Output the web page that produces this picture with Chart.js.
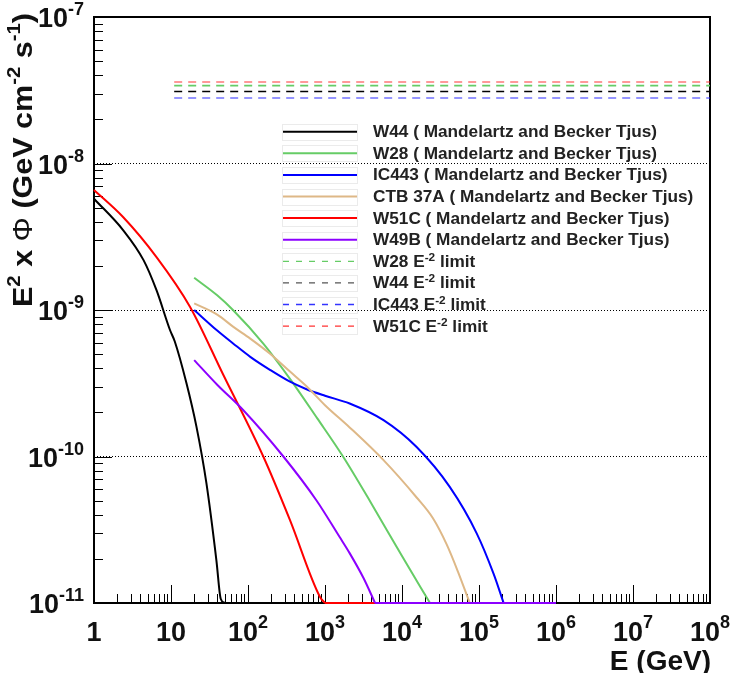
<!DOCTYPE html>
<html>
<head>
<meta charset="utf-8">
<script src="https://cdn.jsdelivr.net/npm/chart.js@4.4.1/dist/chart.umd.min.js"></script>
<style>
  html, body { margin: 0; padding: 0; background: #fff; }
  #wrap { width: 734px; height: 673px; }
</style>
</head>
<body>
<div id="wrap"><canvas id="sedChart" width="734" height="673"></canvas></div>
<script>
// ---- data (E in GeV, E^2 x Phi in GeV cm^-2 s^-1) ----
// last point of each curve = end of the 1e-11 floor
const w44Energy = [1, 2.4, 4.4, 6.5, 9.7, 11.2, 15.8, 21.4, 28.8, 38.9, 44.2, 50, 1e6];
const w44Flux = [5.75e-9, 3.5e-9, 2.19e-9, 1.36e-9, 7.3e-10, 6.1e-10, 3.2e-10, 1.6e-10, 6.6e-11, 1.95e-11, 1.07e-11, 1e-11, 1e-11];

const w28Energy = [20, 39.8, 63.8, 158, 351, 794, 1714, 3981, 1e4, 23100, 1e6];
const w28Flux = [1.66e-9, 1.26e-9, 1e-9, 5.9e-10, 3.39e-10, 1.82e-10, 1e-10, 4.8e-11, 2.09e-11, 1e-11, 1e-11];

const ic443Energy = [20, 39.8, 64.6, 107, 195, 351, 575, 1000, 2089, 5754, 15490, 41690, 93330, 154900, 208900, 1e6];
const ic443Flux = [1e-9, 7.24e-10, 5.89e-10, 4.79e-10, 3.89e-10, 3.24e-10, 2.88e-10, 2.6e-10, 2.3e-10, 1.77e-10, 1.16e-10, 6.2e-11, 2.99e-11, 1.58e-11, 1e-11, 1e-11];

const ctbEnergy = [20, 39.8, 64.6, 107, 195, 351, 575, 1000, 2089, 5754, 15490, 25120, 38020, 53700, 75860, 1e6];
const ctbFlux = [1.11e-9, 9.3e-10, 7.67e-10, 6.38e-10, 5.01e-10, 3.8e-10, 3.02e-10, 2.24e-10, 1.58e-10, 9.44e-11, 5.25e-11, 3.8e-11, 2.51e-11, 1.62e-11, 1e-11, 1e-11];

const w51cEnergy = [1, 2.4, 6.52, 17.7, 47.9, 158, 351, 861, 1000, 1e6];
const w51cFlux = [6.6e-9, 4.3e-9, 2.29e-9, 1.05e-9, 3.6e-10, 1e-10, 3.68e-11, 1.1e-11, 1e-11, 1e-11];

const w49bEnergy = [20, 39.8, 87, 288, 776, 1549, 2089, 3162, 4467, 1e6];
const w49bFlux = [4.55e-10, 3.09e-10, 2.07e-10, 1e-10, 5.01e-11, 2.82e-11, 2.19e-11, 1.48e-11, 1e-11, 1e-11];

const curveNames = ['W44', 'W28', 'IC443', 'CTB 37A', 'W51C', 'W49B'];
const curveEnergies = [w44Energy, w28Energy, ic443Energy, ctbEnergy, w51cEnergy, w49bEnergy];
const curveFluxes = [w44Flux, w28Flux, ic443Flux, ctbFlux, w51cFlux, w49bFlux];

// E^-2 upper limits (flat in E^2 x Phi)
const limitNames = ['W28', 'W44', 'IC443', 'W51C'];
const limitFlux = [3.4e-8, 3.1e-8, 2.8e-8, 3.6e-8];
const limitEnergy = [11, 1e8];

// axis ticks
const xTickValues = [1, 10, 1e2, 1e3, 1e4, 1e5, 1e6, 1e7, 1e8];
const xTickExp = ['', '', '2', '3', '4', '5', '6', '7', '8'];
const yTickValues = [1e-11, 1e-10, 1e-9, 1e-8, 1e-7];
const yTickExp = ['-11', '-10', '-9', '-8', '-7'];

// ---- styles ----
const curveColors = ['#000000', '#66cc66', '#0000ff', '#deb887', '#ff0000', '#8c00ff'];
const limitColors = ['#66cc66', '#000000', 'rgba(40,40,255,0.65)', 'rgba(255,30,30,0.6)'];
const limitLegendColors = ['#66cc66', '#555555', '#3333ff', '#ff3333'];
const FONT = '"Liberation Sans", Arial, Helvetica, sans-serif';

const datasets = [];
curveNames.forEach((name, i) => {
  const pts = curveEnergies[i].map((e, k) => ({ x: e, y: curveFluxes[i][k] }));
  const n = pts.length;
  // the falling part, smoothed
  datasets.push({
    label: name + ' ( Mandelartz and Becker Tjus)',
    data: pts.slice(0, n - 1),
    borderColor: curveColors[i],
    borderWidth: 2,
    pointRadius: 0,
    cubicInterpolationMode: 'monotone',
    clip: false,
    order: 20 - i
  });
  // the flat floor at 1e-11
  datasets.push({
    label: name + ' floor',
    data: pts.slice(n - 2),
    borderColor: curveColors[i],
    borderWidth: 2,
    pointRadius: 0,
    clip: false,
    order: 20 - i
  });
});
limitNames.forEach((name, i) => {
  datasets.push({
    label: name + ' E-2 limit',
    data: limitEnergy.map(e => ({ x: e, y: limitFlux[i] })),
    borderColor: limitColors[i],
    borderWidth: 1.6,
    borderDash: [8, 6],
    pointRadius: 0,
    order: 30 + i
  });
});

// ---- text helpers (superscripts) ----
function partFont(p, size) {
  const s = p.sup ? Math.round(size * 0.66) : size;
  return (p.light ? '' : 'bold ') + s + 'px ' + FONT;
}
function richWidth(ctx, parts, size) {
  let w = 0;
  parts.forEach(p => { ctx.font = partFont(p, size); w += ctx.measureText(p.t).width; });
  return w;
}
function drawRich(ctx, parts, x, y, size, opts = {}) {
  const sx = opts.stretch || 1;
  const raise = opts.raise != null ? opts.raise : size * 0.46;
  const w = richWidth(ctx, parts, size) * sx;
  let start = x;
  if (opts.align === 'center') start = x - w / 2;
  if (opts.align === 'right') start = x - w;
  ctx.save();
  ctx.translate(start, y);
  ctx.scale(sx, 1);
  ctx.fillStyle = opts.color || '#111';
  ctx.textAlign = 'left';
  ctx.textBaseline = 'alphabetic';
  let cx = 0;
  parts.forEach(p => {
    ctx.font = partFont(p, size);
    ctx.fillText(p.t, cx, p.sup ? -raise : 0);
    cx += ctx.measureText(p.t).width;
  });
  ctx.restore();
  return w;
}

// ---- ROOT-like frame, ticks, labels and legend ----
const rootStyle = {
  id: 'rootStyle',
  beforeDatasetsDraw(chart) {
    const { ctx, chartArea: a, scales } = chart;
    ctx.save();
    ctx.strokeStyle = '#000';
    ctx.lineWidth = 1;
    ctx.beginPath();
    // y ticks (inside, left edge)
    for (let d = -11; d < -7; d++) {
      for (let m = 1; m <= 9; m++) {
        const py = Math.round(scales.y.getPixelForValue(m * Math.pow(10, d))) + 0.5;
        const len = m === 1 ? 18 : 9;
        ctx.moveTo(a.left, py); ctx.lineTo(a.left + len, py);
      }
    }
    // x ticks (inside, bottom edge)
    for (let d = 0; d < 8; d++) {
      for (let m = 1; m <= 9; m++) {
        const px = Math.round(scales.x.getPixelForValue(m * Math.pow(10, d))) + 0.5;
        const len = m === 1 ? 18 : 9;
        ctx.moveTo(px, a.bottom); ctx.lineTo(px, a.bottom - len);
      }
    }
    ctx.stroke();
    ctx.lineWidth = 2;
    ctx.strokeRect(a.left, a.top, a.right - a.left, a.bottom - a.top);
    ctx.restore();
  },
  afterDraw(chart) {
    const { ctx, scales } = chart;
    // x tick labels
    xTickValues.forEach((v, i) => {
      const px = scales.x.getPixelForValue(v);
      const parts = i === 0 ? [{ t: '1' }] : (i === 1 ? [{ t: '10' }] : [{ t: '10' }, { t: xTickExp[i], sup: true }]);
      drawRich(ctx, parts, px, 641, 27, { align: 'center', raise: 13 });
    });
    // y tick labels
    yTickValues.forEach((v, i) => {
      const py = scales.y.getPixelForValue(v);
      drawRich(ctx, [{ t: '10' }, { t: yTickExp[i], sup: true }], 84, py + 10, 27, { align: 'right', raise: 12 });
    });
    // axis titles
    drawRich(ctx, [{ t: 'E (GeV)' }], 711, 670, 28, { align: 'right' });
    const yTitle = [{ t: 'E' }, { t: '2', sup: true }, { t: ' x ' }, { t: '\u03A6', light: true }, { t: ' (GeV cm' },
      { t: '-2', sup: true }, { t: ' s' }, { t: '-1', sup: true }, { t: ')' }];
    const fit = 294 / richWidth(ctx, yTitle, 27);
    ctx.save();
    ctx.translate(32, 13);
    ctx.rotate(-Math.PI / 2);
    drawRich(ctx, yTitle, 0, 0, 27, { align: 'right', stretch: fit, raise: 12 });
    ctx.restore();

    // legend
    const rowH = 21.6;
    const top = 131.7;
    const legStretch = 284 / richWidth(ctx, [{ t: 'W44 ( Mandelartz and Becker Tjus)' }], 16);
    const entries = [];
    curveNames.forEach((n, i) => entries.push({ parts: [{ t: n + ' ( Mandelartz and Becker Tjus)' }], color: curveColors[i], dash: [], w: 2 }));
    limitNames.forEach((n, i) => entries.push({ parts: [{ t: n + ' E' }, { t: '-2', sup: true }, { t: ' limit' }], color: limitLegendColors[i], dash: [6, 7], w: 1.3 }));
    entries.forEach((en, i) => {
      const cy = top + i * rowH;
      ctx.save();
      ctx.strokeStyle = 'rgba(0,0,0,0.08)';
      ctx.lineWidth = 1;
      ctx.strokeRect(282.5, Math.round(cy) - 7.5, 75, 16);
      ctx.strokeStyle = en.color;
      ctx.lineWidth = en.w;
      ctx.setLineDash(en.dash);
      ctx.beginPath();
      ctx.moveTo(283, cy); ctx.lineTo(357, cy);
      ctx.stroke();
      ctx.restore();
      drawRich(ctx, en.parts, 373, cy + 5.5, 16, { stretch: legStretch, raise: 6, color: '#222' });
    });
  }
};

new Chart(document.getElementById('sedChart'), {
  type: 'line',
  data: { datasets },
  plugins: [rootStyle],
  options: {
    responsive: false,
    animation: false,
    devicePixelRatio: 1,
    layout: { padding: { left: 94, right: 24, top: 17, bottom: 70 } },
    plugins: { legend: { display: false }, tooltip: { enabled: false } },
    scales: {
      x: {
        type: 'logarithmic', min: 1, max: 1e8,
        ticks: { display: false },
        grid: { display: false, drawTicks: false },
        border: { display: false },
        afterFit: s => { s.height = 0; }
      },
      y: {
        type: 'logarithmic', min: 1e-11, max: 1e-7,
        afterBuildTicks: s => { s.ticks = yTickValues.map(v => ({ value: v })); },
        ticks: { display: false },
        grid: {
          drawTicks: false,
          lineWidth: 1,
          color: c => (c.index > 0 && c.index < yTickValues.length - 1) ? '#000' : 'rgba(0,0,0,0)'
        },
        border: { display: false, dash: [1, 2] },
        afterFit: s => { s.width = 0; }
      }
    }
  }
});
</script>
</body>
</html>
